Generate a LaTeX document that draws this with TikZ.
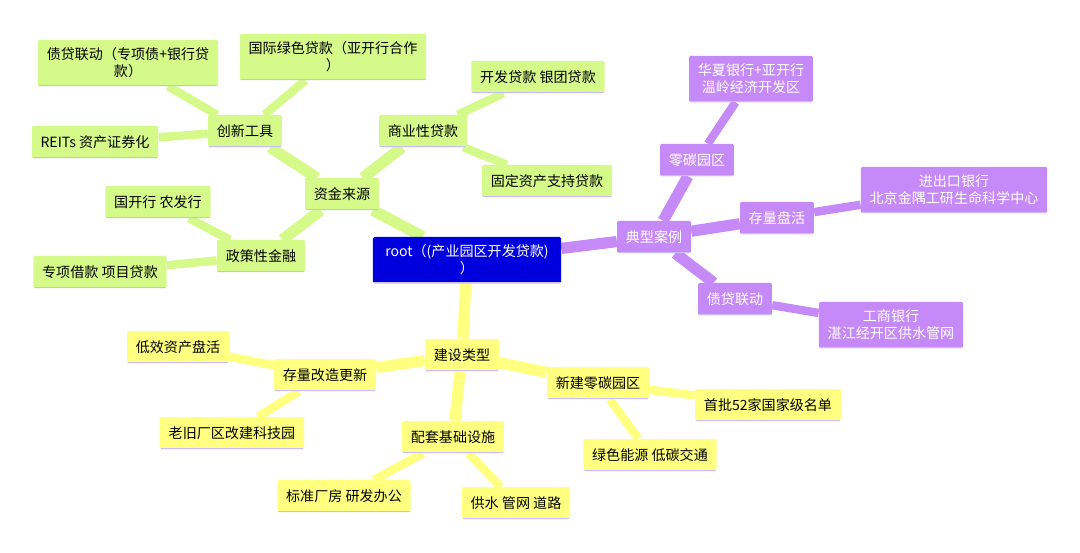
\documentclass[tikz,border=0pt]{standalone}
\usepackage{fontspec}
\setmainfont{Noto Sans CJK SC}
\usetikzlibrary{backgrounds}
\definecolor{grn}{RGB}{214,250,138}
\definecolor{prp}{RGB}{198,138,248}
\definecolor{ylw}{RGB}{255,255,128}
\definecolor{rim}{RGB}{200,188,250}
\definecolor{rootblue}{RGB}{0,0,222}
\tikzset{
  box/.style={rectangle,rounded corners=1pt,minimum height=0.8cm,inner xsep=0.22cm,align=center,
    font=\fontsize{10}{12}\selectfont,
    path picture={\draw[rim,line width=2pt] (path picture bounding box.south west) -- (path picture bounding box.south east);}},
  gbox/.style={box,fill=grn},
  pbox/.style={box,fill=prp,text=white},
  ybox/.style={box,fill=ylw},
  big/.style={line width=8pt},
  small/.style={line width=6pt}
}
\begin{document}
\begin{tikzpicture}[x=0.025cm,y=-0.025cm]
\useasboundingbox (0,0) rectangle (1080,553);
\node[box,fill=rootblue,text=white,minimum width=4.7cm,minimum height=1.15cm] (root) at (467,260) {root（(产业园区开发贷款)\\）};
% green branch
\node[gbox] (fund) at (342,194) {资金来源};
\node[gbox] (comm) at (423,131) {商业性贷款};
\node[gbox] (dev) at (538,77) {开发贷款 银团贷款};
\node[gbox] (fixed) at (547,181) {固定资产支持贷款};
\node[gbox] (innov) at (245,131) {创新工具};
\node[gbox,minimum height=1.15cm] (intl) at (333,57) {国际绿色贷款（亚开行合作\\）};
\node[gbox,minimum height=1.15cm] (bond) at (128,63) {债贷联动（专项债+银行贷\\款）};
\node[gbox] (reits) at (95,142) {REITs 资产证券化};
\node[gbox] (policy) at (261,256) {政策性金融};
\node[gbox] (cdb) at (158,202) {国开行 农发行};
\node[gbox] (spec) at (100,272) {专项借款 项目贷款};
% purple branch
\node[pbox] (case) at (654,237) {典型案例};
\node[pbox] (zero) at (697,160) {零碳园区};
\node[pbox,minimum height=1.15cm] (hx) at (751,79) {华夏银行+亚开行\\温岭经济开发区};
\node[pbox] (stock) at (777,218) {存量盘活};
\node[pbox,minimum height=1.15cm] (exim) at (954,190) {进出口银行\\北京金隅工研生命科学中心};
\node[pbox] (link) at (735,299) {债贷联动};
\node[pbox,minimum height=1.15cm] (icbc) at (891,325) {工商银行\\湛江经开区供水管网};
% yellow branch
\node[ybox] (build) at (462,355) {建设类型};
\node[ybox] (renew) at (325,375) {存量改造更新};
\node[ybox] (low) at (178,347) {低效资产盘活};
\node[ybox] (old) at (232,433) {老旧厂区改建科技园};
\node[ybox] (infra) at (453,437) {配套基础设施};
\node[ybox] (std) at (344,496) {标准厂房 研发办公};
\node[ybox] (water) at (516,503) {供水 管网 道路};
\node[ybox] (new) at (598,383) {新建零碳园区};
\node[ybox] (first) at (768,405) {首批52家国家级名单};
\node[ybox] (green) at (650,455) {绿色能源 低碳交通};
\begin{scope}[on background layer]
\draw[grn,big] (root) -- (fund);
\draw[grn,big] (fund) -- (comm);
\draw[grn,big] (fund) -- (innov);
\draw[grn,big] (fund) -- (policy);
\draw[grn,small] (comm) -- (dev);
\draw[grn,small] (comm) -- (fixed);
\draw[grn,small] (innov) -- (intl);
\draw[grn,small] (innov) -- (bond);
\draw[grn,small] (innov) -- (reits);
\draw[grn,small] (policy) -- (cdb);
\draw[grn,small] (policy) -- (spec);
\draw[prp,big] (root) -- (case);
\draw[prp,big] (case) -- (zero);
\draw[prp,big] (case) -- (stock);
\draw[prp,big] (case) -- (link);
\draw[prp,small] (zero) -- (hx);
\draw[prp,small] (stock) -- (exim);
\draw[prp,small] (link) -- (icbc);
\draw[ylw,big] (root) -- (build);
\draw[ylw,big] (build) -- (renew);
\draw[ylw,big] (build) -- (infra);
\draw[ylw,big] (build) -- (new);
\draw[ylw,small] (renew) -- (low);
\draw[ylw,small] (renew) -- (old);
\draw[ylw,small] (infra) -- (std);
\draw[ylw,small] (infra) -- (water);
\draw[ylw,small] (new) -- (first);
\draw[ylw,small] (new) -- (green);
\end{scope}
\end{tikzpicture}
\end{document}
